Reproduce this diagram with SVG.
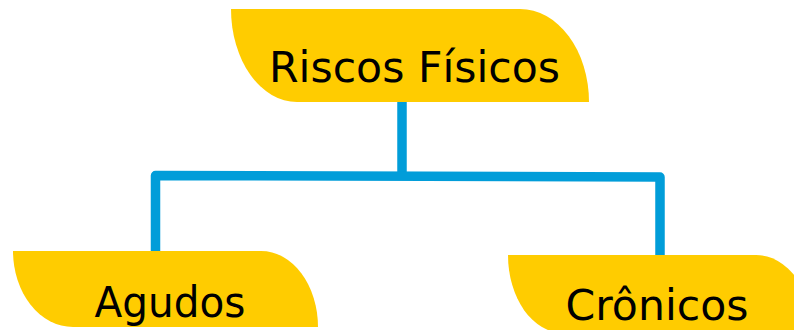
<svg xmlns="http://www.w3.org/2000/svg" width="794" height="330" viewBox="0 0 794 330">
<style>
.shape{fill:#FFCC00;}
.lbl{font-family:"DejaVu Sans",Verdana,sans-serif;font-size:43px;fill:#000;}
.conn{fill:none;stroke:#019DD9;stroke-width:9.5;stroke-linejoin:round;stroke-linecap:butt;}
</style>
<rect width="794" height="330" fill="#fff"/>
<g id="connectors">
<path class="conn" d="M402,101 V176"/>
<path class="conn" d="M155.5,251 V175.5 L660,177 V256"/>
</g>
<g id="riscos-fisicos">
<path class="shape" d="M231,9 H520 A69,93 0 0 1 589,102 H297 A66,93 0 0 1 231,9 Z"/>
<text class="lbl" x="269" y="81.5" textLength="291" lengthAdjust="spacingAndGlyphs">Riscos Físicos</text>
</g>
<g id="agudos">
<path class="shape" d="M13,251 H261 A57,76 0 0 1 318,327 H73 A60,76 0 0 1 13,251 Z"/>
<text class="lbl" x="94.5" y="317.3" textLength="151" lengthAdjust="spacingAndGlyphs">Agudos</text>
</g>
<g id="cronicos">
<path class="shape" d="M508,255 H756 A57,78 0 0 1 813,333 H563 A55,78 0 0 1 508,255 Z"/>
<text class="lbl" x="565.5" y="320" textLength="183" lengthAdjust="spacingAndGlyphs">Crônicos</text>
</g>
</svg>
